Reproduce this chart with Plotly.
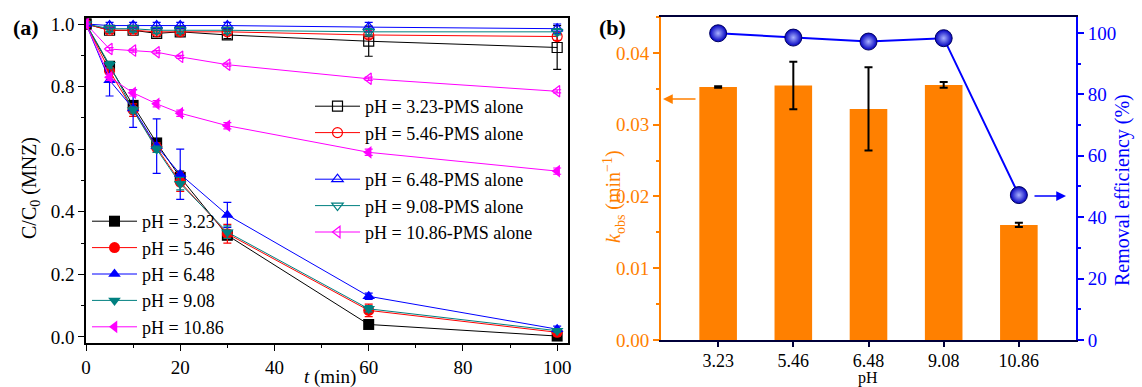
import plotly.graph_objects as go

W, H = 1142, 387

# ---------------- data: panel (a) ----------------
t_min = [0, 5, 10, 15, 20, 30, 60, 100]

c_323 = [1.0, 0.865, 0.74, 0.62, 0.51, 0.325, 0.04, 0.003]
c_546 = [1.0, 0.85, 0.725, 0.605, 0.495, 0.33, 0.085, 0.015]
c_648 = [1.0, 0.82, 0.73, 0.61, 0.52, 0.39, 0.13, 0.025]
c_908 = [1.0, 0.87, 0.725, 0.60, 0.49, 0.335, 0.09, 0.02]
c_1086 = [1.0, 0.83, 0.78, 0.745, 0.715, 0.675, 0.59, 0.53]

e_323 = [0, 0.01, 0.015, 0.01, 0.02, 0.01, 0.005, 0.005]
e_546 = [0, 0.02, 0.02, 0.015, 0.03, 0.03, 0.02, 0.01]
e_648 = [0, 0.05, 0.06, 0.087, 0.08, 0.04, 0.01, 0.01]
e_908 = [0, 0.01, 0.01, 0.01, 0.02, 0.02, 0.01, 0.005]
e_1086 = [0, 0.01, 0.01, 0.01, 0.01, 0.01, 0.01, 0.01]

p_323 = [1.0, 0.98, 0.98, 0.97, 0.975, 0.965, 0.945, 0.925]
p_546 = [1.0, 0.98, 0.98, 0.975, 0.975, 0.975, 0.965, 0.96]
p_648 = [1.0, 0.995, 0.995, 0.995, 0.995, 0.995, 0.99, 0.985]
p_908 = [1.0, 0.985, 0.985, 0.98, 0.98, 0.98, 0.975, 0.975]
p_1086 = [1.0, 0.92, 0.915, 0.91, 0.895, 0.87, 0.825, 0.785]

pe_323 = [0, 0.005, 0.005, 0.01, 0.01, 0.012, 0.048, 0.07]
pe_546 = [0, 0.01, 0.01, 0.01, 0.01, 0.01, 0.01, 0.012]
pe_648 = [0, 0.01, 0.01, 0.01, 0.01, 0.01, 0.015, 0.015]
pe_908 = [0, 0.01, 0.01, 0.01, 0.01, 0.01, 0.01, 0.01]
pe_1086 = [0, 0.005, 0.005, 0.005, 0.005, 0.005, 0.005, 0.005]

# ---------------- data: panel (b) ----------------
ph_labels = ["3.23", "5.46", "6.48", "9.08", "10.86"]
k_obs = [0.03526, 0.03545, 0.0322, 0.03554, 0.01603]
k_err = [0.0001, 0.0033, 0.0058, 0.0004, 0.0003]
removal = [99.9, 98.5, 97.2, 98.3, 47.2]
removal_err = [0.5, 1.0, 1.2, 1.0, 1.0]

FONT = "Liberation Serif"
BLACK, RED, BLUE, TEAL, MAG = "#000000", "#FF0000", "#0000FF", "#008080", "#FF00FF"
ORANGE = "#FF8000"
NAVY = "#00003A"


def px_x(px):
    return px / W


def px_y(py):
    return 1 - py / H


fig = go.Figure()

open_series = [
    ("pH = 3.23-PMS alone", p_323, pe_323, BLACK, "square-open", "legend"),
    ("pH = 5.46-PMS alone", p_546, pe_546, RED, "circle-open", "legend"),
    ("pH = 6.48-PMS alone", p_648, pe_648, BLUE, "triangle-up-open", "legend2"),
    ("pH = 9.08-PMS alone", p_908, pe_908, TEAL, "triangle-down-open", "legend2"),
    ("pH = 10.86-PMS alone", p_1086, pe_1086, MAG, "triangle-left-open", "legend2"),
]
filled_series = [
    ("pH = 3.23", c_323, e_323, BLACK, "square"),
    ("pH = 5.46", c_546, e_546, RED, "circle"),
    ("pH = 6.48", c_648, e_648, BLUE, "triangle-up"),
    ("pH = 9.08", c_908, e_908, TEAL, "triangle-down"),
    ("pH = 10.86", c_1086, e_1086, MAG, "triangle-left"),
]

for name, y, e, col, sym, leg in open_series:
    fig.add_trace(go.Scatter(
        x=t_min, y=y, name=name, mode="lines+markers", legend=leg,
        line=dict(color=col, width=1),
        marker=dict(symbol=sym, size=10, color=col, line=dict(color=col, width=1.2)),
        error_y=dict(type="data", array=e, color=col, thickness=1.2, width=4),
        xaxis="x", yaxis="y",
    ))

for name, y, e, col, sym in filled_series:
    fig.add_trace(go.Scatter(
        x=t_min, y=y, name=name, mode="lines+markers", legend="legend3",
        line=dict(color=col, width=1),
        marker=dict(symbol=sym, size=11, color=col),
        error_y=dict(type="data", array=e, color=col, thickness=1.2, width=4),
        xaxis="x", yaxis="y",
    ))

# panel (b)
fig.add_trace(go.Bar(
    x=ph_labels, y=k_obs, width=0.5, marker=dict(color=ORANGE, line=dict(width=0)),
    error_y=dict(type="data", array=k_err, color="black", thickness=2, width=4),
    xaxis="x2", yaxis="y2", showlegend=False,
))
fig.add_trace(go.Scatter(
    x=ph_labels, y=removal, mode="lines+markers",
    line=dict(color=BLUE, width=2),
    marker=dict(symbol="circle", size=17, color="#0000C0",
                gradient=dict(type="radial", color="#A8B0FF"),
                line=dict(color="#000060", width=1)),
    error_y=dict(type="data", array=removal_err, color="black", thickness=2, width=4),
    xaxis="x2", yaxis="y3", showlegend=False,
))

tickfont = dict(family=FONT, size=19, color="black")
legfont = dict(family=FONT, size=18, color="black")

common_leg = dict(xanchor="left", yanchor="top", bgcolor="rgba(0,0,0,0)",
                  font=legfont, itemwidth=45, tracegroupgap=0, borderwidth=0)

fig.update_layout(
    template="none",
    width=W, height=H,
    margin=dict(l=0, r=0, t=0, b=0, autoexpand=False),
    paper_bgcolor="white", plot_bgcolor="white",
    font=dict(family=FONT, color="black"),
    xaxis=dict(
        domain=[px_x(86), px_x(568)], anchor="y", automargin=False,
        range=[0, 102.3], dtick=20, tickfont=tickfont,
        ticks="outside", ticklen=6, tickwidth=1.2, tickcolor="black",
        minor=dict(dtick=10, ticks="outside", ticklen=3, tickcolor="black"),
        showline=True, linecolor="black", linewidth=1.5, mirror=True,
        showgrid=False, zeroline=False,
    ),
    yaxis=dict(
        domain=[px_y(343), px_y(18)], anchor="x", automargin=False,
        range=[-0.0192, 1.0192], dtick=0.2, tickformat=".1f", tickfont=tickfont,
        ticks="outside", ticklen=6, tickwidth=1.2, tickcolor="black",
        minor=dict(dtick=0.1, ticks="outside", ticklen=3, tickcolor="black"),
        showline=True, linecolor="black", linewidth=1.5, mirror=True,
        showgrid=False, zeroline=False,
    ),
    xaxis2=dict(
        domain=[px_x(661), px_x(1076)], anchor="y2", type="category", automargin=False,
        range=[-0.76, 4.76], tickfont=dict(family=FONT, size=18, color="black"),
        ticks="outside", ticklen=5, tickwidth=2, tickcolor=NAVY,
        ticklabelstandoff=-2,
        showline=True, linecolor=NAVY, linewidth=2, mirror=True,
        showgrid=False, zeroline=False,
    ),
    yaxis2=dict(
        domain=[px_y(340), px_y(17)], anchor="x2", automargin=False,
        range=[0, 0.045], dtick=0.01, tickformat=".2f",
        tickfont=dict(family=FONT, size=19, color=ORANGE),
        ticks="outside", ticklen=6, tickwidth=1.5, tickcolor=ORANGE,
        minor=dict(dtick=0.005, ticks="outside", ticklen=3, tickcolor=ORANGE),
        showline=True, linecolor=ORANGE, linewidth=2,
        showgrid=False, zeroline=False,
    ),
    yaxis3=dict(
        domain=[px_y(340), px_y(17)], anchor="x2", overlaying="y2", side="right",
        automargin=False,
        range=[0, 105.2], dtick=20,
        tickfont=dict(family=FONT, size=19, color=BLUE),
        ticks="outside", ticklen=6, tickwidth=1.5, tickcolor=BLUE,
        minor=dict(dtick=10, ticks="outside", ticklen=3, tickcolor=BLUE),
        showline=True, linecolor=BLUE, linewidth=2,
        showgrid=False, zeroline=False,
    ),
    legend=dict(x=px_x(310), y=px_y(88), **common_leg),
    legend2=dict(x=px_x(310), y=px_y(161), **common_leg),
    legend3=dict(x=px_x(87), y=px_y(203), **common_leg),
)

ann = [
    dict(text="<b>(a)</b>", x=px_x(26), y=px_y(27), size=22, color="black", angle=0),
    dict(text="<b>(b)</b>", x=px_x(612), y=px_y(27), size=22, color="black", angle=0),
    dict(text="C/C<sub>0</sub> (MNZ)", x=px_x(30), y=px_y(188), size=20, color="black", angle=-90),
    dict(text="<i>t</i> (min)", x=px_x(330), y=px_y(377), size=19, color="black", angle=0),
    dict(text="<i>k</i><sub>obs</sub> (min<sup>\u22121</sup>)", x=px_x(614), y=px_y(197), size=20, color=ORANGE, angle=-90),
    dict(text="Removal efficiency (%)", x=px_x(1122), y=px_y(190), size=20, color=BLUE, angle=-90),
    dict(text="pH", x=px_x(868), y=px_y(378), size=16, color="black", angle=0),
]
for a in ann:
    fig.add_annotation(text=a["text"], x=a["x"], y=a["y"], xref="paper", yref="paper",
                       showarrow=False, textangle=a["angle"],
                       font=dict(family=FONT, size=a["size"], color=a["color"]),
                       xanchor="center", yanchor="middle")

# arrows indicating which axis each series belongs to
fig.add_annotation(x=px_x(663), y=px_y(99), xref="paper", yref="paper",
                   ax=34, ay=0, axref="pixel", ayref="pixel", text="",
                   showarrow=True, arrowhead=2, arrowsize=1.3, arrowwidth=1.5,
                   arrowcolor=ORANGE)
fig.add_annotation(x=px_x(1066), y=px_y(196), xref="paper", yref="paper",
                   ax=-33, ay=0, axref="pixel", ayref="pixel", text="",
                   showarrow=True, arrowhead=2, arrowsize=1.3, arrowwidth=1.5,
                   arrowcolor=BLUE)

fig.write_html("out.html")
